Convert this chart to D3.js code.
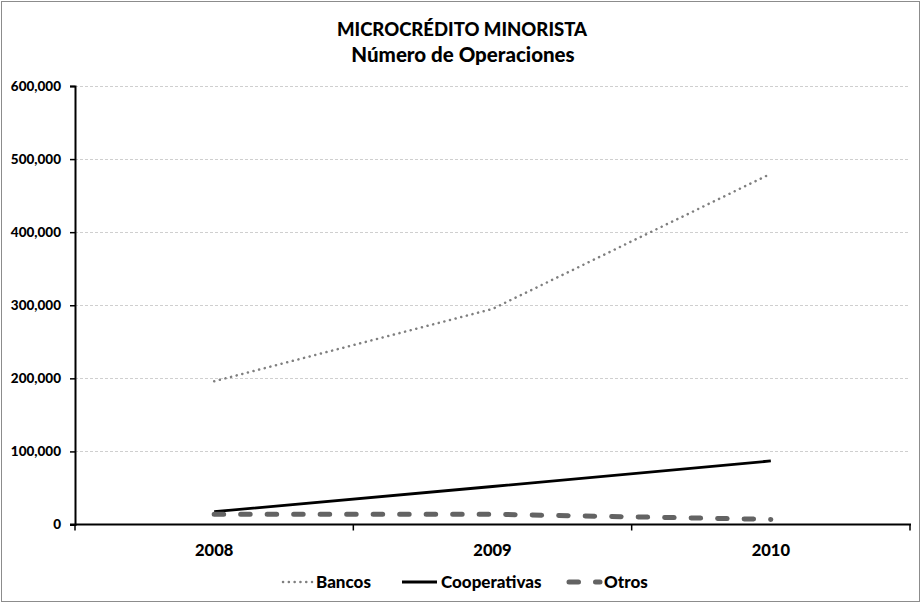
<!DOCTYPE html>
<html>
<head>
<meta charset="utf-8">
<script src="https://cdn.jsdelivr.net/npm/d3@7/dist/d3.min.js"></script>
<style>
  body { margin: 0; background: #fff; }
  svg { display: block; font-family: Lato, "Open Sans", sans-serif; }
  text { font-weight: 900; }
</style>
</head>
<body>
<svg id="chart" width="922" height="604"></svg>
<script>
var years = ['2008', '2009', '2010'];
var bancos = [196000, 295000, 480000];
var cooperativas = [17500, 52000, 87000];
var otros = [14000, 14000, 7000];
var yTicks = [0, 100000, 200000, 300000, 400000, 500000, 600000];

var series = [
    {name: 'Bancos', values: bancos, color: '#7f7f7f', width: 2.5, dash: '0.1,5.7', cap: 'round'},
    {name: 'Cooperativas', values: cooperativas, color: '#000', width: 2.8, dash: null, cap: 'butt'},
    {name: 'Otros', values: otros, color: '#636363', width: 5, dash: '9.5,17', cap: 'round'}
];

var svg = d3.select('#chart');
var rect = {x: 75, y: 86, w: 835, h: 438.5};

// chart border
svg.append('rect')
    .attr('x', 1.5).attr('y', 1.5)
    .attr('width', 918).attr('height', 600)
    .attr('fill', '#fff')
    .attr('stroke', '#8c8c8c');

svg.append('text')
    .attr('x', 462).attr('y', 36)
    .attr('text-anchor', 'middle')
    .attr('font-size', 18.5)
    .text('MICROCRÉDITO MINORISTA');
svg.append('text')
    .attr('x', 463).attr('y', 62)
    .attr('text-anchor', 'middle')
    .attr('font-size', 20.5)
    .text('Número de Operaciones');

var x = d3.scaleBand().domain(years).range([rect.x, rect.x + rect.w]);
var y = d3.scaleLinear().domain([0, 600000]).range([rect.y + rect.h, rect.y]);

// grid
svg.append('g').selectAll('line')
    .data(yTicks.filter(function (d) { return d > 0; }))
  .enter().append('line')
    .attr('x1', rect.x).attr('x2', rect.x + rect.w)
    .attr('y1', function (d) { return Math.round(y(d)) + 0.5; })
    .attr('y2', function (d) { return Math.round(y(d)) + 0.5; })
    .attr('stroke', '#cfcfcf')
    .attr('stroke-dasharray', '3,2');

// y axis
var yAxis = svg.append('g')
    .attr('transform', 'translate(' + rect.x + ',0)')
    .call(d3.axisLeft(y).tickValues(yTicks).tickSize(5).tickPadding(9)
        .tickFormat(d3.format(',')));
yAxis.select('.domain').attr('stroke', '#000').attr('stroke-width', 2);
yAxis.selectAll('.tick line').attr('stroke', '#000').attr('stroke-width', 1.5);
yAxis.selectAll('text')
    .attr('font-size', 13.5)
    .attr('font-family', 'Lato, sans-serif').attr('fill', '#000');

// x axis, ticks between categories
var xg = svg.append('g')
    .attr('transform', 'translate(0,' + (rect.y + rect.h) + ')');
xg.append('line')
    .attr('x1', rect.x - 5).attr('x2', rect.x + rect.w + 1)
    .attr('stroke', '#000').attr('stroke-width', 2);
xg.selectAll('.xt')
    .data(years.map(function (d) { return x(d); }).concat([rect.x + rect.w]))
  .enter().append('line')
    .attr('class', 'xt')
    .attr('x1', function (d) { return d; }).attr('x2', function (d) { return d; })
    .attr('y1', 0).attr('y2', 6)
    .attr('stroke', '#000').attr('stroke-width', 1.5);
xg.selectAll('text')
    .data(years)
  .enter().append('text')
    .attr('x', function (d) { return x(d) + x.bandwidth() / 2; })
    .attr('y', 31)
    .attr('text-anchor', 'middle')
    .attr('font-size', 16.5)
    .text(function (d) { return d; });

// lines
var line = d3.line()
    .x(function (d, i) { return x(years[i]) + x.bandwidth() / 2; })
    .y(function (d) { return y(d); });

svg.append('g').selectAll('path')
    .data(series)
  .enter().append('path')
    .attr('d', function (s) { return line(s.values); })
    .attr('fill', 'none')
    .attr('stroke', function (s) { return s.color; })
    .attr('stroke-width', function (s) { return s.width; })
    .attr('stroke-linecap', function (s) { return s.cap; })
    .attr('stroke-dasharray', function (s) { return s.dash; });

// legend
var legendX = [281, 402, 567];
var legendLen = [31, 35, 33];
var lg = svg.append('g').selectAll('g')
    .data(series)
  .enter().append('g')
    .attr('transform', function (s, i) { return 'translate(' + legendX[i] + ',582)'; });
lg.append('line')
    .attr('x1', function (s) { return s.cap == 'round' ? 2 : 0; })
    .attr('x2', function (s, i) { return legendLen[i]; })
    .attr('stroke', function (s) { return s.color; })
    .attr('stroke-width', function (s) { return s.width; })
    .attr('stroke-linecap', function (s) { return s.cap; })
    .attr('stroke-dasharray', function (s) { return s.dash; });
lg.append('text')
    .attr('x', function (s, i) { return legendLen[i] + 4; })
    .attr('y', 6)
    .attr('font-size', 17)
    .text(function (s) { return s.name; });
</script>
</body>
</html>
